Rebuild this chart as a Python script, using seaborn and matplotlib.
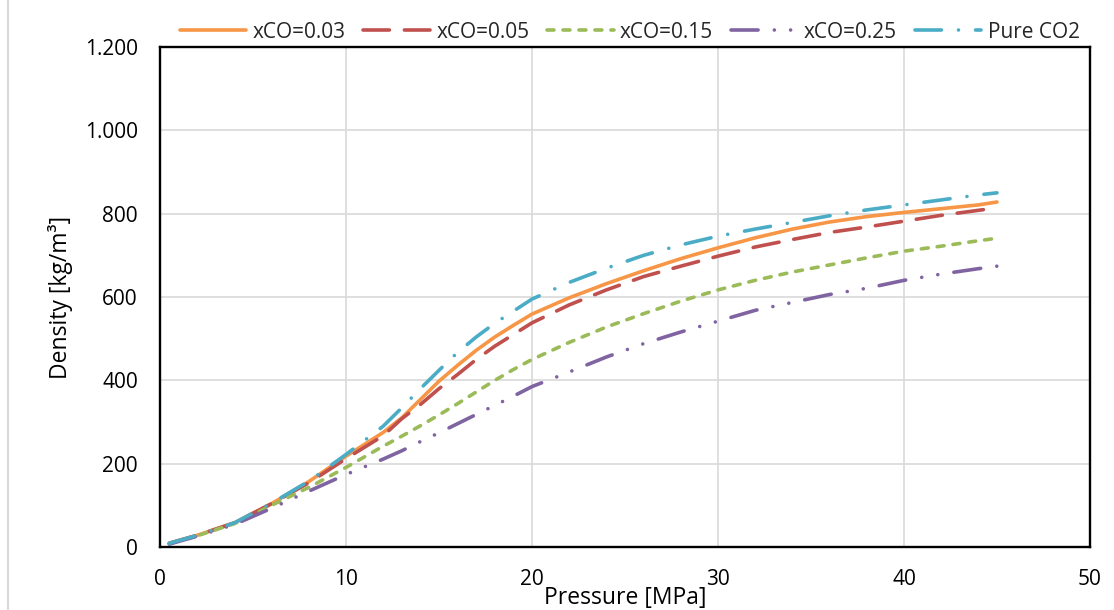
import matplotlib
matplotlib.use("Agg")
import matplotlib.pyplot as plt
from matplotlib.lines import Line2D
import seaborn as sns
import pandas as pd

# ---- data ----
pressure = [0.5, 2, 4, 6, 8, 10, 12, 13, 14, 15, 16, 17, 18, 19, 20,
            22, 24, 26, 28, 30, 32, 34, 36, 38, 40, 42, 44, 45]
xco_003 = [9, 28, 58, 104, 157, 218, 275, 310, 354, 398, 436, 472, 504, 532, 559,
           598, 632, 663, 692, 718, 742, 763, 780, 793, 803, 812, 821, 828]
xco_005 = [9, 28, 58, 104, 154, 212, 267, 308, 342, 380, 414, 450, 482, 510, 538,
           581, 617, 649, 674, 698, 720, 738, 755, 768, 782, 796, 808, 814]
xco_015 = [8, 27, 56, 100, 143, 191, 242, 266, 291, 317, 344, 372, 400, 426, 450,
           491, 528, 560, 590, 617, 640, 660, 677, 694, 710, 722, 735, 741]
xco_025 = [7, 26, 54, 93, 134, 174, 211, 231, 253, 274, 296, 318, 340, 362, 385,
           420, 456, 488, 516, 542, 568, 587, 606, 621, 640, 655, 668, 674]
pure_co2 = [9, 28, 58, 105, 158, 222, 290, 334, 380, 424, 467, 504, 537, 566, 595,
            635, 669, 700, 725, 746, 763, 779, 795, 809, 821, 833, 845, 850]

series_names = ["xCO=0.03", "xCO=0.05", "xCO=0.15", "xCO=0.25", "Pure CO2"]
series_values = [xco_003, xco_005, xco_015, xco_025, pure_co2]

x_ticks = [0, 10, 20, 30, 40, 50]
y_ticks = [0, 200, 400, 600, 800, 1000, 1200]
y_tick_labels = ["0", "200", "400", "600", "800", "1.000", "1.200"]

# ---- styles ----
colors = ["#F79646", "#C0504D", "#9BBB59", "#8064A2", "#4BACC6"]
linestyles = [
    "-",
    (0, (19.0, 10.8)),
    (0, (5.0, 6.5)),
    (0, (19.5, 11.7, 0.01, 11.7, 0.01, 11.7)),
    (0, (19.0, 12.3, 0.01, 12.3)),
]

sns.set_theme(style="white")
plt.rcParams["font.family"] = ["Open Sans", "DejaVu Sans"]
plt.rcParams["lines.scale_dashes"] = False

fig = plt.figure(figsize=(11.14, 6.10), dpi=100)
ax = fig.add_axes([160 / 1114, 63 / 610, 930 / 1114, 500 / 610])

for name, vals, c, ls in zip(series_names, series_values, colors, linestyles):
    df = pd.DataFrame({"Pressure": pressure, "Density": vals})
    sns.lineplot(data=df, x="Pressure", y="Density", ax=ax, color=c,
                 linestyle=ls, linewidth=2.6, label=name,
                 solid_capstyle="round", dash_capstyle="round",
                 solid_joinstyle="round", dash_joinstyle="round")

ax.set_xlim(0, 50)
ax.set_ylim(0, 1200)
ax.set_xticks(x_ticks)
ax.set_xticklabels([str(t) for t in x_ticks])
ax.set_yticks(y_ticks)
ax.set_yticklabels(y_tick_labels)
ax.tick_params(axis="both", length=0, labelsize=15, colors="black")
ax.tick_params(axis="y", pad=16)
ax.tick_params(axis="x", pad=15.5)

ax.grid(True, color="#D9D9D9", linewidth=1.2)
ax.set_axisbelow(True)
for sp in ax.spines.values():
    sp.set_visible(True)
    sp.set_color("black")
    sp.set_linewidth(1.7)

ax.set_xlabel("Pressure [MPa]", fontsize=16.5, color="black")
ax.xaxis.set_label_coords(0.5, -0.103)
ax.xaxis.label.set_verticalalignment("center")
ax.set_ylabel("Density [kg/m³]", fontsize=16.5, color="black")
ax.yaxis.set_label_coords(-0.1075, 0.5)
ax.yaxis.label.set_verticalalignment("center")

leg = ax.legend(loc="center", bbox_to_anchor=(0.505, 1.03), ncol=5,
                frameon=False, fontsize=15, handlelength=3.2,
                handletextpad=0.3, columnspacing=0.85, borderaxespad=0)

fig.add_artist(Line2D([0.0068, 0.0068], [0, 1], color="#D9D9D9", linewidth=1.5,
                      transform=fig.transFigure))

fig.savefig("out.png", dpi=100)
